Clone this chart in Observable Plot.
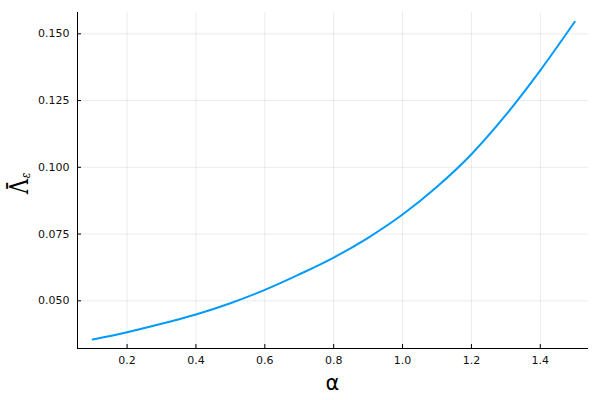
<!DOCTYPE html>
<html>
<head>
<meta charset="utf-8">
<script src="https://cdn.jsdelivr.net/npm/d3@7"></script>
<script src="https://cdn.jsdelivr.net/npm/@observablehq/plot@0.6"></script>
<style>
  body { margin: 0; background: #fff; }
  #chart svg { display: block; }
</style>
</head>
<body>
<div id="chart"></div>
<script>
// Data
const alpha  = [0.1, 0.2, 0.3, 0.4, 0.5, 0.6, 0.7, 0.8, 0.9, 1.0, 1.1, 1.2, 1.3, 1.4, 1.5];
const lambda = [0.0355, 0.03825, 0.0414, 0.0449, 0.0491, 0.0541, 0.0599, 0.0662, 0.0736, 0.0823, 0.0927, 0.1049, 0.1196, 0.1363, 0.1545];
const xTicks = [0.2, 0.4, 0.6, 0.8, 1.0, 1.2, 1.4];
const yTicks = [0.050, 0.075, 0.100, 0.125, 0.150];
const xDomain = [0.056, 1.540];
const yDomain = [0.03214, 0.15798];

const data = alpha.map((a, i) => ({alpha: a, lambda: lambda[i]}));

const W = 600, H = 400;
const mL = 77, mR = 12, mT = 12, mB = 52;
const font = "'DejaVu Sans', sans-serif";

const chart = Plot.plot({
  width: W,
  height: H,
  marginLeft: mL,
  marginRight: mR,
  marginTop: mT,
  marginBottom: mB,
  style: {fontFamily: font, fontSize: "11px", color: "#000", background: "#fff"},
  x: {domain: xDomain},
  y: {domain: yDomain},
  marks: [
    // grid
    Plot.gridX(xTicks, {stroke: "#000", strokeOpacity: 0.1, strokeWidth: 0.8}),
    Plot.gridY(yTicks, {stroke: "#000", strokeOpacity: 0.1, strokeWidth: 0.8}),
    // inward ticks
    Plot.ruleX(xTicks, {stroke: "#000", strokeWidth: 1, insetTop: H - mT - mB - 4}),
    Plot.ruleY(yTicks, {stroke: "#000", strokeWidth: 1, insetRight: W - mL - mR - 4}),
    // tick labels
    Plot.axisX(xTicks, {tickSize: 0, tickPadding: 8, tickFormat: d => d.toFixed(1), label: null, fontSize: 11, fill: "#111"}),
    Plot.axisY(yTicks, {tickSize: 0, tickPadding: 8, tickFormat: d => d.toFixed(3), label: null, fontSize: 11, fill: "#111"}),
    // axis lines
    Plot.ruleX([xDomain[0]], {stroke: "#000", strokeWidth: 1}),
    Plot.ruleY([yDomain[0]], {stroke: "#000", strokeWidth: 1}),
    // curve
    Plot.line(data, {x: "alpha", y: "lambda", stroke: "#009AFA", strokeWidth: 2, curve: "monotone-x"})
  ]
});

document.getElementById("chart").appendChild(chart);

// Axis titles
const svg = d3.select(chart);
svg.append("text")
  .attr("x", (mL + (W - mR)) / 2)
  .attr("y", 390)
  .attr("text-anchor", "middle")
  .attr("font-family", font)
  .attr("font-size", 21)
  .attr("fill", "#000")
  .text("α");

const yl = svg.append("text")
  .attr("transform", "translate(28,194) rotate(-90) scale(0.8,1)")
  .attr("text-anchor", "start")
  .attr("font-family", "'DejaVu Serif', 'Liberation Serif', serif")
  .attr("font-size", 26)
  .attr("fill", "#000");
yl.append("tspan").text("Λ");
yl.append("tspan")
  .attr("dx", -15)
  .attr("dy", -2)
  .text("¯");
yl.append("tspan")
  .attr("font-size", 13)
  .attr("font-style", "italic")
  .attr("dx", 3)
  .attr("dy", 4)
  .text("ε");
</script>
</body>
</html>
